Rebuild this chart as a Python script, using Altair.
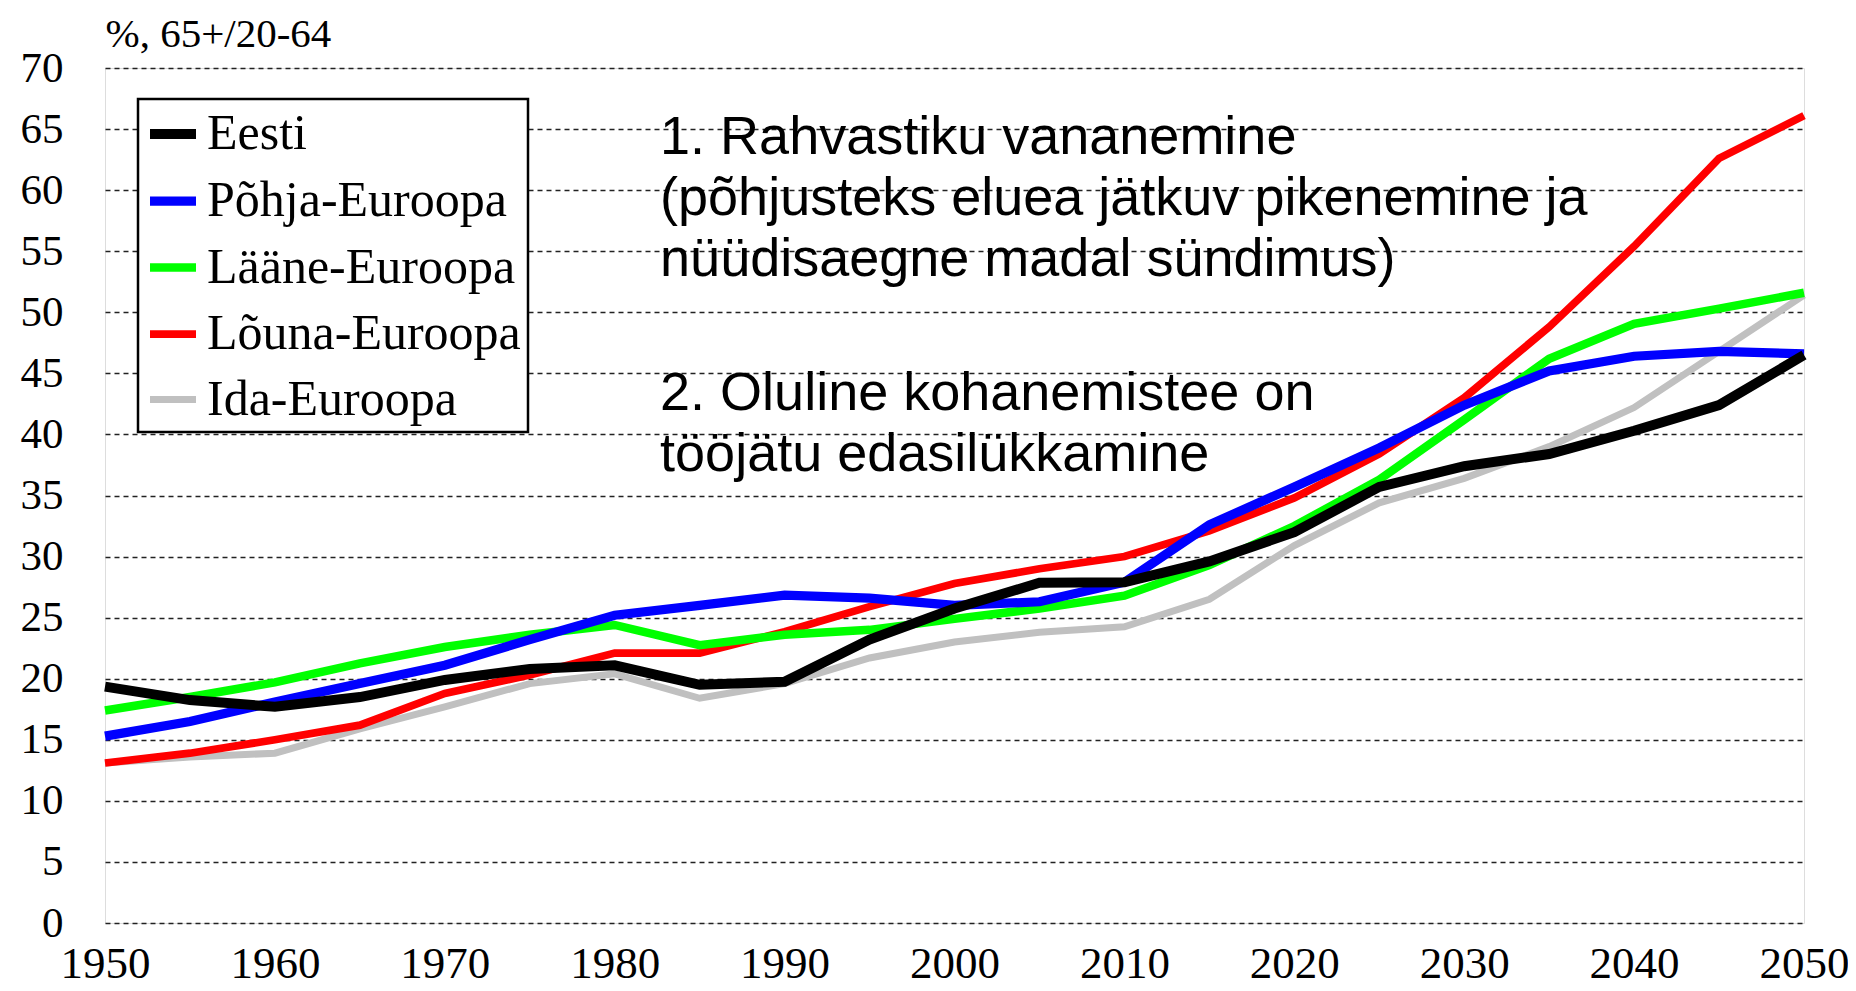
import altair as alt
import pandas as pd

years = list(range(1950, 2051, 5))
series_names = ["Eesti", "Põhja-Euroopa", "Lääne-Euroopa", "Lõuna-Euroopa", "Ida-Euroopa"]
series_colors = ["#000000", "#0000FF", "#00FF00", "#FF0000", "#C0C0C0"]
series_widths = [10, 7, 7, 7, 7]

eesti = [19.35, 18.25, 17.7, 18.5, 19.9, 20.8, 21.1, 19.5, 19.75, 23.2, 25.75,
         27.85, 27.9, 29.6, 32.0, 35.7, 37.4, 38.4, 40.3, 42.4, 46.5]
pohja = [15.3, 16.5, 18.1, 19.6, 21.1, 23.2, 25.2, 26.0, 26.85, 26.6, 26.0,
         26.3, 27.9, 32.6, 35.7, 38.9, 42.4, 45.2, 46.4, 46.8, 46.6]
laane = [17.4, 18.5, 19.7, 21.25, 22.6, 23.6, 24.4, 22.75, 23.6, 24.0, 24.9,
         25.75, 26.8, 29.3, 32.5, 36.3, 41.2, 46.2, 49.05, 50.3, 51.6]
louna = [13.1, 13.9, 15.0, 16.2, 18.8, 20.3, 22.1, 22.1, 23.85, 25.9, 27.8,
         29.0, 30.0, 32.1, 34.8, 38.4, 43.0, 48.8, 55.4, 62.6, 66.1]
ida = [13.1, 13.6, 13.9, 15.9, 17.7, 19.6, 20.4, 18.4, 19.6, 21.7, 23.0,
       23.8, 24.25, 26.5, 30.9, 34.4, 36.4, 39.0, 42.2, 46.8, 51.4]

y_ticks = list(range(0, 71, 5))
x_ticks = list(range(1950, 2051, 10))
y_title = "%, 65+/20-64"

ann_lines = ["1. Rahvastiku vananemine",
             "(põhjusteks eluea jätkuv pikenemine ja",
             "nüüdisaegne madal sündimus)",
             "2. Oluline kohanemistee on",
             "tööjätu edasilükkamine"]
ann_year = [1982.67] * 5
ann_value = [63.0, 58.0, 53.0, 42.0, 37.0]

# draw order: grey first, black last
draw_order = [("Ida-Euroopa", ida), ("Lõuna-Euroopa", louna), ("Lääne-Euroopa", laane),
              ("Põhja-Euroopa", pohja), ("Eesti", eesti)]
rows = []
for k, (name, vals) in enumerate(draw_order):
    for yr, v in zip(years, vals):
        rows.append({"year": yr, "value": v, "series": name, "ord": k})
df = pd.DataFrame(rows)
ann_df = pd.DataFrame({"year": ann_year, "value": ann_value, "text": ann_lines})

xscale = alt.Scale(domain=[1950, 2050], nice=False, zero=False)
yscale = alt.Scale(domain=[0, 70], nice=False)

lines = alt.Chart(df).mark_line(strokeCap="butt", strokeJoin="miter").encode(
    x=alt.X("year:Q", scale=xscale,
            axis=alt.Axis(values=x_ticks, format="d", title=None, grid=False,
                          ticks=False, tickSize=0, domain=False,
                          labelFont="Liberation Serif", labelFontSize=45,
                          labelColor="black", labelBaseline="alphabetic",
                          labelPadding=54, labelFlush=False)),
    y=alt.Y("value:Q", scale=yscale,
            axis=alt.Axis(values=y_ticks, title=y_title, grid=True,
                          gridDash=[5, 4], gridColor="#222222", gridWidth=1.3,
                          ticks=False, tickSize=0, domain=False,
                          labelFont="Liberation Serif", labelFontSize=43,
                          labelColor="black", labelPadding=42,
                          titleFont="Liberation Serif", titleFontSize=41,
                          titleFontWeight="normal", titleColor="black",
                          titleAngle=0, titleAlign="left", titleBaseline="alphabetic",
                          titleX=0, titleY=-22)),
    color=alt.Color("series:N",
                    scale=alt.Scale(domain=series_names, range=series_colors),
                    legend=alt.Legend(orient="none", legendX=33, legendY=31, title=None,
                                      symbolType="stroke", symbolSize=2116,
                                      symbolStrokeWidth=9,
                                      labelFont="Liberation Serif", labelFontSize=50,
                                      labelColor="black", labelOffset=6, labelLimit=0,
                                      rowPadding=14, padding=7,
                                      strokeColor="black", fillColor="white")),
    strokeWidth=alt.StrokeWidth("series:N",
                                scale=alt.Scale(domain=series_names, range=series_widths),
                                legend=None),
    order=alt.Order("ord:Q"),
    detail="series:N",
)

ann = alt.Chart(ann_df).mark_text(align="left", baseline="alphabetic",
                                  font="Liberation Sans", fontSize=54,
                                  color="black").encode(
    x=alt.X("year:Q", scale=xscale),
    y=alt.Y("value:Q", scale=yscale),
    text="text:N",
)

chart = alt.layer(lines, ann).properties(
    width=1699, height=855,
    autosize=alt.AutoSizeParams(type="none"),
    padding={"left": 97, "top": 60, "right": 44, "bottom": 66},
).configure_view(stroke="#444444", strokeWidth=2).configure(
    background="white").configure_legend(strokeWidth=2.5)

chart.save("out.html", embed_options={"renderer": "svg", "actions": False})
